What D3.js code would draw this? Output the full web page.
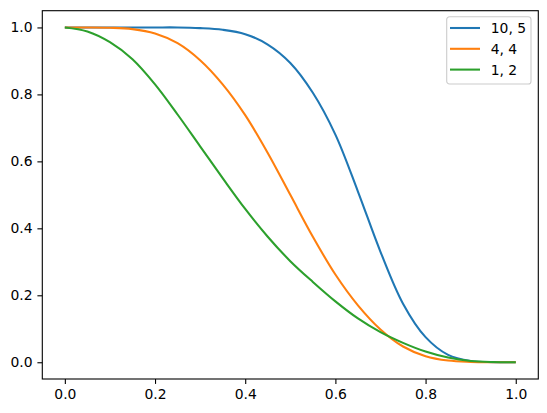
<!DOCTYPE html>
<html>
<head>
<meta charset="utf-8">
<script src="https://cdn.jsdelivr.net/npm/d3@7"></script>
<style>
    body { margin: 0; background: #fff; }
    svg text { font-family: "DejaVu Sans", sans-serif; }
</style>
</head>
<body>
<svg id="chart" width="547" height="413"></svg>
<script>
// values
const xValues = [0, 0.05, 0.1, 0.15, 0.2, 0.25, 0.3, 0.35, 0.4, 0.45, 0.5,
                 0.55, 0.6, 0.65, 0.7, 0.75, 0.8, 0.85, 0.9, 0.95, 1.0];

const series10_5 = [1, 1, 1, 1, 1, 1, 0.998, 0.993, 0.980, 0.949, 0.894,
                    0.805, 0.680, 0.510, 0.330, 0.175, 0.075, 0.022, 0.004, 0.0005, 0];
const series4_4 = [1, 1, 0.999, 0.995, 0.982, 0.953, 0.902, 0.830, 0.738, 0.625, 0.500,
                   0.375, 0.262, 0.170, 0.098, 0.047, 0.018, 0.005, 0.001, 0, 0];
const series1_2 = [1, 0.988, 0.956, 0.905, 0.830, 0.740, 0.645, 0.550, 0.458, 0.375, 0.302,
                   0.240, 0.182, 0.131, 0.090, 0.058, 0.032, 0.014, 0.004, 0.0007, 0];

const seriesLabels = ["10, 5", "4, 4", "1, 2"];
const seriesColors = ["#1f77b4", "#ff7f0e", "#2ca02c"];
const xTicks = [0, 0.2, 0.4, 0.6, 0.8, 1.0];
const yTicks = [0, 0.2, 0.4, 0.6, 0.8, 1.0];

const allSeries = [series10_5, series4_4, series1_2];

// plot box, matches the matplotlib axes frame
const frame = { left: 42.3, right: 538.3, top: 10.7, bottom: 379 };
const fontSize = 13.9;

const svg = d3.select("#chart");

const x = d3.scaleLinear().domain([-0.05, 1.05]).range([frame.left, frame.right]);
const y = d3.scaleLinear().domain([-0.05, 1.05]).range([frame.bottom, frame.top]);

// lines
const line = d3.line()
    .x((d, i) => x(xValues[i]))
    .y(d => y(d))
    .curve(d3.curveCatmullRom.alpha(0.5));

svg.append("g")
    .selectAll("path")
    .data(allSeries)
    .enter()
    .append("path")
    .attr("d", d => line(d))
    .attr("fill", "none")
    .attr("stroke", (d, i) => seriesColors[i])
    .attr("stroke-width", 2.08)
    .attr("stroke-linejoin", "round")
    .attr("stroke-linecap", "butt");

// axes
const xAxis = d3.axisBottom(x)
    .tickValues(xTicks)
    .tickFormat(d3.format(".1f"))
    .tickSizeInner(4.9)
    .tickSizeOuter(0)
    .tickPadding(4.9);

const yAxis = d3.axisLeft(y)
    .tickValues(yTicks)
    .tickFormat(d3.format(".1f"))
    .tickSizeInner(4.9)
    .tickSizeOuter(0)
    .tickPadding(4.9);

const gx = svg.append("g")
    .attr("transform", "translate(0," + frame.bottom + ")")
    .call(xAxis);
const gy = svg.append("g")
    .attr("transform", "translate(" + frame.left + ",0)")
    .call(yAxis);

[gx, gy].forEach(g => {
    g.select(".domain").remove();
    g.selectAll(".tick line").attr("stroke", "#000").attr("stroke-width", 1.1);
    g.selectAll(".tick text")
        .attr("fill", "#000")
        .style("font-size", fontSize + "px")
        .style("font-family", "'DejaVu Sans', sans-serif");
});

// frame around the plot
svg.append("rect")
    .attr("x", frame.left)
    .attr("y", frame.top)
    .attr("width", frame.right - frame.left)
    .attr("height", frame.bottom - frame.top)
    .attr("fill", "none")
    .attr("stroke", "#000")
    .attr("stroke-width", 1.1);

// legend
const legend = svg.append("g").attr("transform", "translate(446.7,16.7)");

legend.append("rect")
    .attr("width", 84.3)
    .attr("height", 67.3)
    .attr("rx", 2.8)
    .attr("fill", "#fff")
    .attr("fill-opacity", 0.8)
    .attr("stroke", "#cccccc")
    .attr("stroke-width", 1.1);

const rows = legend.selectAll("g.row")
    .data(seriesLabels)
    .enter()
    .append("g")
    .attr("class", "row")
    .attr("transform", (d, i) => "translate(0," + (11.3 + i * 20.8) + ")");

rows.append("line")
    .attr("x1", 3.3)
    .attr("x2", 33.3)
    .attr("stroke", (d, i) => seriesColors[i])
    .attr("stroke-width", 2.08);

rows.append("text")
    .attr("x", 44)
    .attr("y", 5)
    .style("font-size", fontSize + "px")
    .attr("fill", "#000")
    .text(d => d);
</script>
</body>
</html>
